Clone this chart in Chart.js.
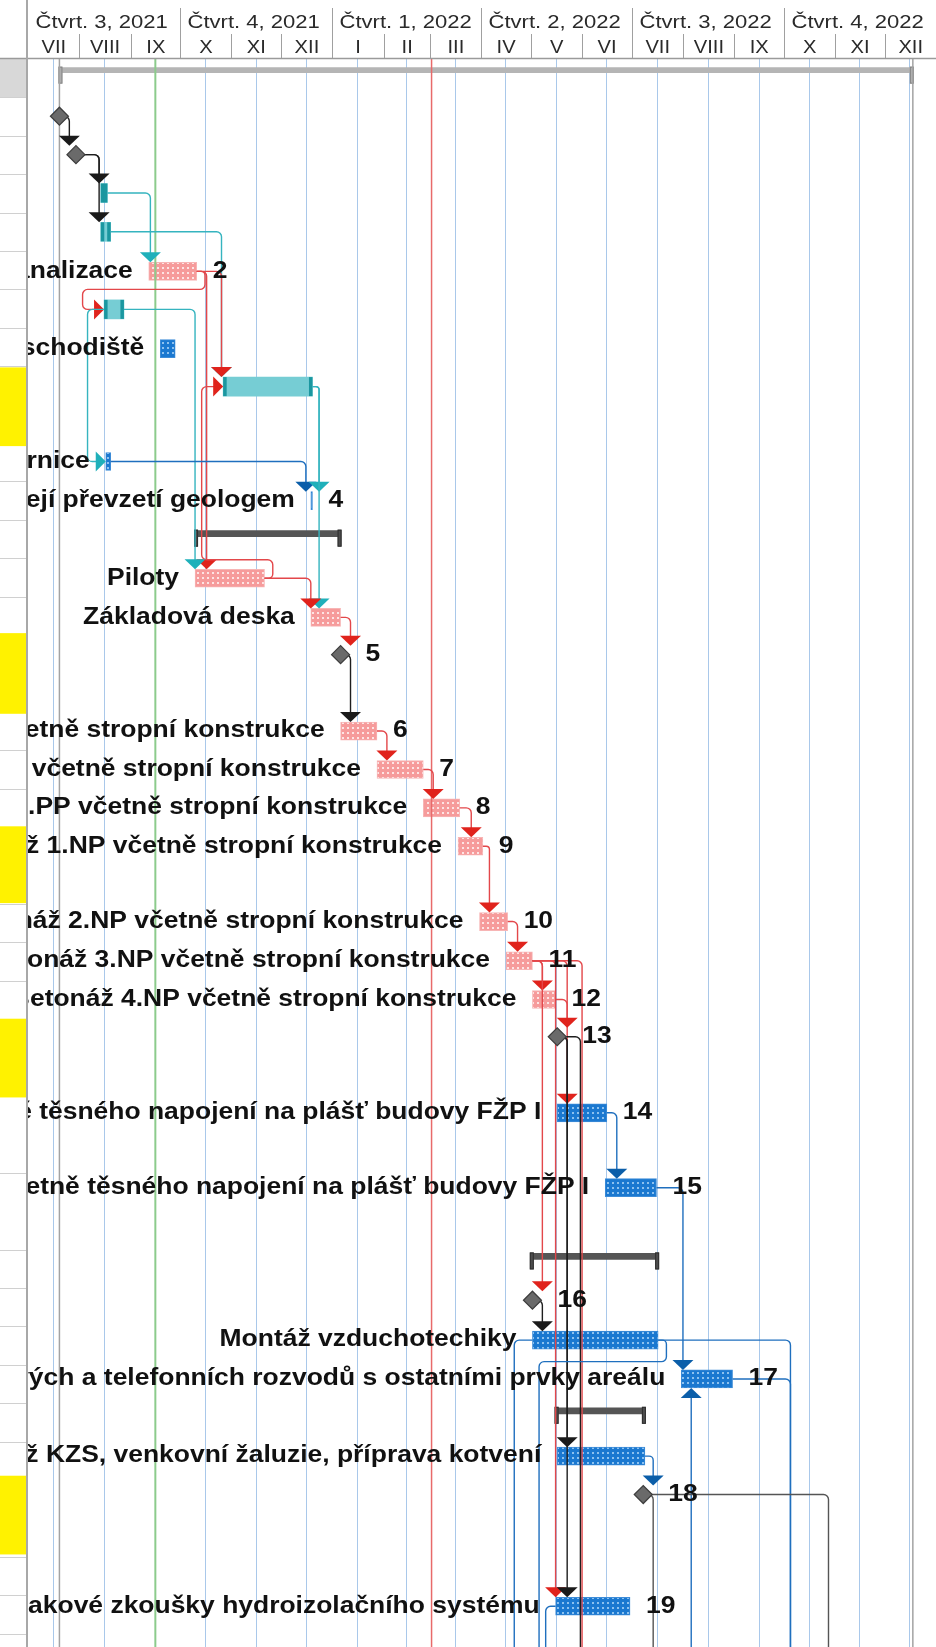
<!DOCTYPE html>
<html>
<head>
<meta charset="utf-8">
<script src="https://cdn.jsdelivr.net/npm/chart.js@4.4.1/dist/chart.umd.min.js"></script>
<style>
  html, body { margin: 0; padding: 0; background: #fff; }
  canvas { display: block; }
</style>
</head>
<body>
<canvas id="gantt" width="936" height="1647"></canvas>
<script>
// casova osa
const timelineStart = '2021-07-01';
const timelineEnd = '2023-01-01';
const quarterLabels = ['Čtvrt. 3, 2021', 'Čtvrt. 4, 2021', 'Čtvrt. 1, 2022', 'Čtvrt. 2, 2022', 'Čtvrt. 3, 2022', 'Čtvrt. 4, 2022'];
const quarterStarts = ['2021-07-01', '2021-10-01', '2022-01-01', '2022-04-01', '2022-07-01', '2022-10-01'];
const monthLabels = ['VII', 'VIII', 'IX', 'X', 'XI', 'XII', 'I', 'II', 'III', 'IV', 'V', 'VI', 'VII', 'VIII', 'IX', 'X', 'XI', 'XII'];
const monthStarts = ['2021-07-01', '2021-08-01', '2021-09-01', '2021-10-01', '2021-11-01', '2021-12-01',
                     '2022-01-01', '2022-02-01', '2022-03-01', '2022-04-01', '2022-05-01', '2022-06-01',
                     '2022-07-01', '2022-08-01', '2022-09-01', '2022-10-01', '2022-11-01', '2022-12-01'];

// ulohy
const taskIds   = ['p0', 'm1', 'm2', 't3', 't4', 'k2', 't6', 's7', 't8', 'r10', 'g4', 's12', 'pil', 'zd', 'm5',
                   'b6', 'b7', 'b8', 'b9', 'b10', 'b11', 'b12', 'm13', 'b14', 'b15', 's31', 'm16', 'vzt', 'b17',
                   's35', 'kzs', 'm18', 'b19'];
const taskKinds = ['project', 'milestone', 'milestone', 'teal', 'teal', 'pink', 'teal', 'blue', 'teal', 'blue', 'blue',
                   'summary', 'pink', 'pink', 'milestone', 'pink', 'pink', 'pink', 'pink', 'pink', 'pink', 'pink',
                   'milestone', 'blue', 'blue', 'summary', 'milestone', 'blue', 'blue', 'summary', 'blue', 'milestone', 'blue'];
const taskRows  = [0.29, 1.49, 2.49, 3.49, 4.5, 5.53, 6.52, 7.54, 8.53, 10.48, 11.5, 12.36, 13.52, 14.54, 15.51,
                   17.5, 18.5, 19.5, 20.5, 22.46, 23.48, 24.49, 25.46, 27.44, 29.39, 31.18, 32.32, 33.36, 34.37,
                   35.2, 36.38, 37.38, 40.29];
const taskStart = ['2021-07-20', '2021-07-20', '2021-07-30', '2021-08-14', '2021-08-14', '2021-09-12', '2021-08-16',
                   '2021-09-19', '2021-10-27', '2021-08-17', '2021-12-19', '2021-10-10', '2021-10-10', '2021-12-19',
                   '2022-01-06', '2022-01-06', '2022-01-28', '2022-02-25', '2022-03-18', '2022-03-31', '2022-04-16',
                   '2022-05-02', '2022-05-17', '2022-05-17', '2022-06-15', '2022-05-01', '2022-05-02', '2022-05-02',
                   '2022-07-31', '2022-05-16', '2022-05-17', '2022-07-08', '2022-05-16'];
const taskEnd   = ['2022-12-18', '', '', '2021-08-18', '2021-08-20', '2021-10-11', '2021-08-28',
                   '2021-09-28', '2021-12-20', '2021-08-20', '2021-12-20', '2022-01-06', '2021-11-21', '2022-01-06',
                   '', '2022-01-28', '2022-02-25', '2022-03-19', '2022-04-02', '2022-04-17', '2022-05-02',
                   '2022-05-16', '', '2022-06-16', '2022-07-16', '2022-07-17', '', '2022-07-17',
                   '2022-08-31', '2022-07-09', '2022-07-09', '', '2022-06-30'];
const taskNames = ['', '', '', '', '', 'Ležatá kanalizace', '', 'Venkovní schodiště', '', 'Demolice stávající čerpárnice',
                   'Základová spára a její převzetí geologem', '', 'Piloty', 'Základová deska', '',
                   'Betonáž 3.PP včetně stropní konstrukce', 'Betonáž 2.PP včetně stropní konstrukce',
                   'Betonáž 1.PP včetně stropní konstrukce', 'Betonáž 1.NP včetně stropní konstrukce',
                   'Betonáž 2.NP včetně stropní konstrukce', 'Betonáž 3.NP včetně stropní konstrukce',
                   'Betonáž 4.NP včetně stropní konstrukce', '',
                   'Fasáda včetně těsného napojení na plášť budovy FŽP I',
                   'Střecha včetně těsného napojení na plášť budovy FŽP I', '', '', 'Montáž vzduchotechiky',
                   'Propojení datových a telefonních rozvodů s ostatními prvky areálu', '',
                   'Montáž KZS, venkovní žaluzie, příprava kotvení', '', 'Tlakové zkoušky hydroizolačního systému'];
const taskNums  = ['', '', '', '', '', '2', '', '', '', '', '4', '', '', '', '5', '6', '7', '8', '9', '10', '11', '12',
                   '13', '14', '15', '', '16', '', '17', '', '', '18', '19'];

// vazby: [od, do, strana, trasa (datum = vodorovne, cislo = svisle na radek), sipka, barva]
const BOTTOM = 41.6;
const links = [
  ['m1', 'm2', 'end', ['2021-07-26'], 'down', 'black'],
  ['m2', 't3', 'end', ['2021-08-13'], 'down', 'black'],
  ['m2', 't4', 'end', ['2021-08-13'], 'down', 'black'],
  ['t3', 'k2', 'end', ['2021-09-13'], 'down', 'teal'],
  ['t4', 't8', 'end', ['2021-10-26'], 'down', 'teal'],
  ['k2', 't8', 'end', ['2021-10-26'], 'down', 'red'],
  ['k2', 't6', 'end', ['2021-10-16', 6.0, '2021-08-03'], 'right', 'red'],
  ['k2', 'pil', 'end', ['2021-10-17'], 'down', 'red'],
  ['pil', 't8', 'end', ['2021-11-26', 13.04, '2021-10-14'], 'right', 'red'],
  ['t6', 'pil', 'end', ['2021-10-10'], 'down', 'teal'],
  ['t6', 'r10', 'start', ['2021-08-06'], 'right', 'teal'],
  ['r10', 'g4', 'end', ['2021-12-16'], 'down', 'blue'],
  ['t8', 'g4', 'end', ['2021-12-24'], 'down', 'teal'],
  ['t8', 'zd', 'end', ['2021-12-24'], 'down', 'teal'],
  ['pil', 'zd', 'end', ['2021-12-19'], 'down', 'red'],
  ['zd', 'm5', 'end', ['2022-01-12'], 'down', 'red'],
  ['m5', 'b6', 'end', ['2022-01-12'], 'down', 'black'],
  ['b6', 'b7', 'end', ['2022-02-03'], 'down', 'red'],
  ['b7', 'b8', 'end', ['2022-03-03'], 'down', 'red'],
  ['b8', 'b9', 'end', ['2022-03-26'], 'down', 'red'],
  ['b9', 'b10', 'end', ['2022-04-06'], 'down', 'red'],
  ['b10', 'b11', 'end', ['2022-04-23'], 'down', 'red'],
  ['b11', 'b12', 'end', ['2022-05-08'], 'down', 'red'],
  ['b11', 'm16', 'end', ['2022-05-08'], 'down', 'red'],
  ['b11', 'b19', 'end', ['2022-05-16'], 'down', 'red'],
  ['b11', 'b14', 'end', ['2022-05-23'], 'down', 'red'],
  ['b11', null, 'end', ['2022-06-01', BOTTOM], 'none', 'red'],
  ['b12', 'm13', 'end', ['2022-05-23'], 'down', 'red'],
  ['m13', 'kzs', 'end', ['2022-05-23'], 'down', 'black'],
  ['m13', 'b19', 'end', ['2022-05-23'], 'down', 'black'],
  ['m13', null, 'end', ['2022-05-31', BOTTOM], 'none', 'black'],
  ['b14', 'b15', 'end', ['2022-06-22'], 'down', 'blue'],
  ['b15', 'b17', 'end', ['2022-08-01'], 'down', 'blue'],
  ['m16', 'vzt', 'end', ['2022-05-08'], 'down', 'black'],
  ['vzt', null, 'end', ['2022-07-22', 33.92, '2022-05-06', BOTTOM], 'none', 'blue'],
  ['vzt', null, 'end', ['2022-10-05', BOTTOM], 'none', 'blue'],
  ['vzt', null, 'start', ['2022-04-21', BOTTOM], 'none', 'blue'],
  ['b17', null, 'end', ['2022-10-05', BOTTOM], 'none', 'blue'],
  [['2022-08-06', BOTTOM], 'b17', 'point', [], 'up', 'blue'],
  ['kzs', 'm18', 'end', ['2022-07-14'], 'down', 'blue'],
  ['m18', null, 'end', ['2022-07-14', BOTTOM], 'none', 'gray'],
  ['m18', null, 'end', ['2022-10-28', BOTTOM], 'none', 'gray'],
  ['b19', null, 'start', ['2022-05-10', BOTTOM], 'none', 'blue']
];

// svisle znacky
const todayDate = '2021-09-16';
const statusDate = '2022-03-02';
const projectLines = ['2021-07-20', '2022-12-18'];

// levy panel (tabulka)
const paneYellow = [[8.03, 10.08], [14.95, 17.05], [19.98, 21.98], [24.99, 27.04], [36.89, 38.94]];
const paneSkipRules = [28, 30];

const lineColors = { red: '#e3474a', teal: '#35b4bf', blue: '#1f6fbe', black: '#1e1e1e', gray: '#555555' };
const arrowColors = { red: '#e0231c', teal: '#1fb0ba', blue: '#0b5ea9', black: '#1a1a1a', gray: '#444444' };

const MS = 86400000;
function day(s) {
    const a = s.split('-').map(Number);
    const b = timelineStart.split('-').map(Number);
    return (Date.UTC(a[0], a[1] - 1, a[2]) - Date.UTC(b[0], b[1] - 1, b[2])) / MS;
}

function dotPattern(base, dot) {
    const c = document.createElement('canvas');
    c.width = 5; c.height = 5;
    const g = c.getContext('2d');
    g.fillStyle = base; g.fillRect(0, 0, 5, 5);
    g.fillStyle = dot; g.fillRect(2, 2, 2, 2);
    return g.createPattern(c, 'repeat');
}

function barData(kind) {
    return taskIds.map((id, i) => i)
        .filter(i => taskKinds[i] === kind)
        .map(i => ({ x: [day(taskStart[i]), day(taskEnd[i])], y: taskRows[i] }));
}
const milestoneData = taskIds.map((id, i) => i)
    .filter(i => taskKinds[i] === 'milestone')
    .map(i => ({ x: day(taskStart[i]), y: taskRows[i] }));

function stretchText(ctx, str, x, y, align, sx) {
    ctx.save();
    ctx.translate(x, y);
    ctx.scale(sx, 1);
    ctx.textAlign = align;
    ctx.fillText(str, 0, 0);
    ctx.restore();
}

function geom(i, xs, ys) {
    const k = taskKinds[i];
    const x0 = xs.getPixelForValue(day(taskStart[i]));
    const x1 = k === 'milestone' ? x0 : xs.getPixelForValue(day(taskEnd[i]));
    const y = ys.getPixelForValue(taskRows[i]);
    const half = { project: 2.5, summary: 3, teal: 9.5, pink: 9, blue: 9, milestone: 9 }[k];
    return { x0, x1, y, half, k };
}

function roundPath(ctx, pts, r) {
    ctx.beginPath();
    ctx.moveTo(pts[0][0], pts[0][1]);
    for (let i = 1; i < pts.length - 1; i++) {
        const a = pts[i - 1], b = pts[i], c = pts[i + 1];
        const rr = Math.min(r, Math.hypot(b[0] - a[0], b[1] - a[1]) / 2, Math.hypot(c[0] - b[0], c[1] - b[1]) / 2);
        ctx.arcTo(b[0], b[1], c[0], c[1], rr);
    }
    const last = pts[pts.length - 1];
    ctx.lineTo(last[0], last[1]);
    ctx.stroke();
}

function arrow(ctx, dir, x, y, color) {
    ctx.fillStyle = color;
    ctx.beginPath();
    if (dir === 'down') { ctx.moveTo(x - 10.5, y - 10); ctx.lineTo(x + 10.5, y - 10); ctx.lineTo(x, y); }
    if (dir === 'up') { ctx.moveTo(x - 10.5, y + 10); ctx.lineTo(x + 10.5, y + 10); ctx.lineTo(x, y); }
    if (dir === 'right') { ctx.moveTo(x - 10, y - 10); ctx.lineTo(x - 10, y + 10); ctx.lineTo(x, y); }
    ctx.closePath();
    ctx.fill();
}

// pozadi
const background = {
    id: 'background',
    beforeDraw(chart) {
        const { ctx, width, height } = chart;
        ctx.save();
        ctx.fillStyle = '#ffffff';
        ctx.fillRect(0, 0, width, height);
        ctx.restore();
    }
};

// konce souhrnnych a teal pruhu
const barCaps = {
    id: 'barCaps',
    afterDatasetDraw(chart, args) {
        const kind = args.meta._dataset.kind;
        if (!['teal', 'summary', 'project'].includes(kind)) return;
        const { ctx } = chart;
        ctx.save();
        args.meta.data.forEach(el => {
            const x0 = Math.min(el.base, el.x), x1 = Math.max(el.base, el.x);
            const top = el.y - el.height / 2;
            if (kind === 'teal') {
                ctx.fillStyle = '#1b97a0';
                ctx.fillRect(x0, top, 3.5, el.height);
                ctx.fillRect(x1 - 3.5, top, 3.5, el.height);
            } else {
                const h = 17;
                ctx.fillStyle = kind === 'project' ? '#b0b0b0' : '#4d4d4d';
                ctx.strokeStyle = kind === 'project' ? '#858585' : '#2e2e2e';
                ctx.lineWidth = 1;
                [x0 - 1, x1 - 3].forEach(cx => {
                    ctx.fillRect(cx, top - 1, 4, h);
                    ctx.strokeRect(cx + 0.5, top - 0.5, 3, h - 1);
                });
            }
        });
        ctx.restore();
    }
};

// znacky a vazby pod milniky
const linksLayer = {
    id: 'linksLayer',
    beforeDatasetDraw(chart, args) {
        if (args.meta.type !== 'scatter') return;
        const { ctx, chartArea, scales: { x, y } } = chart;
        ctx.save();
        ctx.beginPath();
        ctx.rect(chartArea.left, chartArea.top, chartArea.right - chartArea.left, chartArea.bottom - chartArea.top);
        ctx.clip();

        // zacatek a konec projektu
        ctx.strokeStyle = '#a3a3a3';
        ctx.lineWidth = 1.5;
        projectLines.forEach(d => {
            const px = x.getPixelForValue(day(d));
            ctx.beginPath(); ctx.moveTo(px, chartArea.top); ctx.lineTo(px, chartArea.bottom); ctx.stroke();
        });
        // dnesek
        ctx.strokeStyle = '#8ccb8c';
        ctx.lineWidth = 2;
        let px = x.getPixelForValue(day(todayDate));
        ctx.beginPath(); ctx.moveTo(px, chartArea.top); ctx.lineTo(px, chartArea.bottom); ctx.stroke();
        // datum stavu
        ctx.strokeStyle = '#e86a6a';
        ctx.lineWidth = 1.5;
        px = x.getPixelForValue(day(statusDate));
        ctx.beginPath(); ctx.moveTo(px, chartArea.top); ctx.lineTo(px, chartArea.bottom); ctx.stroke();

        ctx.lineWidth = 1.4;
        links.forEach(([from, to, side, via, dir, color]) => {
            let pts;
            if (side === 'point') {
                pts = [[x.getPixelForValue(day(from[0])), y.getPixelForValue(from[1])]];
            } else {
                const g = geom(taskIds.indexOf(from), x, y);
                pts = [[side === 'start' ? g.x0 : g.x1, g.y]];
            }
            via.forEach(v => {
                const last = pts[pts.length - 1];
                if (typeof v === 'string') pts.push([x.getPixelForValue(day(v)), last[1]]);
                else pts.push([last[0], y.getPixelForValue(v)]);
            });
            const last = pts[pts.length - 1];
            let tip = null;
            if (to) {
                const t = geom(taskIds.indexOf(to), x, y);
                if (dir === 'down') { tip = [last[0], t.y - t.half]; pts.push([last[0], tip[1] - 9]); }
                if (dir === 'up') { tip = [last[0], t.y + t.half]; pts.push([last[0], tip[1] + 9]); }
                if (dir === 'right') {
                    tip = [t.x0, t.y];
                    pts.push([last[0], t.y]);
                    pts.push([t.x0 - 9, t.y]);
                }
            }
            ctx.strokeStyle = lineColors[color];
            roundPath(ctx, pts, 5);
            if (tip) arrow(ctx, dir, tip[0], tip[1], arrowColors[color]);
        });
        ctx.restore();
    }
};

// popisky uloh
const taskLabels = {
    id: 'taskLabels',
    afterDatasetsDraw(chart) {
        const { ctx, chartArea, scales: { x, y } } = chart;
        ctx.save();
        ctx.beginPath();
        ctx.rect(chartArea.left, 0, chartArea.right - chartArea.left, chart.height);
        ctx.clip();
        ctx.fillStyle = '#111111';
        ctx.font = 'bold 23px "Liberation Sans", Arial, sans-serif';
        ctx.textBaseline = 'middle';
        taskIds.forEach((id, i) => {
            const g = geom(i, x, y);
            if (taskNames[i]) stretchText(ctx, taskNames[i], g.x0 - 16, g.y, 'right', 1.15);
            if (taskNums[i]) {
                const lx = g.k === 'milestone' ? g.x0 + 25 : g.x1 + 16;
                stretchText(ctx, taskNums[i], lx, g.y, 'left', 1.15);
            }
        });
        ctx.restore();
    }
};

// hlavicka casove osy a levy panel
const frame = {
    id: 'frame',
    afterDraw(chart) {
        const { ctx, chartArea, scales: { x, y } } = chart;
        const top = chartArea.top;
        ctx.save();

        // levy panel
        ctx.fillStyle = '#ffffff';
        ctx.fillRect(0, 0, 27, chart.height);
        ctx.fillStyle = '#d8d8d8';
        ctx.fillRect(0, y.getPixelForValue(0), 27, y.getPixelForValue(1) - y.getPixelForValue(0));
        ctx.strokeStyle = '#d0d0d0';
        ctx.lineWidth = 1;
        for (let r = 1; r <= Math.floor(y.max); r++) {
            if (paneSkipRules.includes(r)) continue;
            const py = Math.round(y.getPixelForValue(r)) + 0.5;
            ctx.beginPath(); ctx.moveTo(0, py); ctx.lineTo(27, py); ctx.stroke();
        }
        ctx.fillStyle = '#fff200';
        paneYellow.forEach(([a, b]) => {
            const y0 = y.getPixelForValue(a), y1 = y.getPixelForValue(b);
            ctx.fillRect(0, y0, 27, y1 - y0);
        });

        // hlavicka
        ctx.fillStyle = '#ffffff';
        ctx.fillRect(0, 0, chart.width, top - 1);
        ctx.strokeStyle = '#9a9a9a';
        ctx.lineWidth = 1.5;
        ctx.beginPath(); ctx.moveTo(0, top - 0.5); ctx.lineTo(chart.width, top - 0.5); ctx.stroke();
        ctx.lineWidth = 2;
        ctx.strokeStyle = '#a8a8a8';
        ctx.beginPath(); ctx.moveTo(27, 0); ctx.lineTo(27, chart.height); ctx.stroke();

        ctx.lineWidth = 1;
        ctx.strokeStyle = '#a0a0a0';
        ctx.fillStyle = '#2a2a2a';
        ctx.textBaseline = 'middle';
        ctx.font = '19px "Liberation Sans", Arial, sans-serif';
        quarterStarts.forEach((q, i) => {
            const qx = Math.round(x.getPixelForValue(day(q))) + 0.5;
            if (i > 0) { ctx.beginPath(); ctx.moveTo(qx, 8); ctx.lineTo(qx, top - 1); ctx.stroke(); }
            stretchText(ctx, quarterLabels[i], qx + 7, 23, 'left', 1.16);
        });
        ctx.font = '18px "Liberation Sans", Arial, sans-serif';
        monthStarts.forEach((m, i) => {
            const mx = Math.round(x.getPixelForValue(day(m))) + 0.5;
            const next = i + 1 < monthStarts.length ? day(monthStarts[i + 1]) : day(timelineEnd);
            const nx = x.getPixelForValue(next);
            if (i > 0 && !quarterStarts.includes(m)) {
                ctx.beginPath(); ctx.moveTo(mx, 34); ctx.lineTo(mx, top - 1); ctx.stroke();
            }
            stretchText(ctx, monthLabels[i], (mx + nx) / 2, 48, 'center', 1.12);
        });
        ctx.restore();
    }
};

const pinkFill = dotPattern('#f69b9b', '#fde4e4');
const blueFill = dotPattern('#1a78d0', '#8cc1ef');

const config = {
    type: 'bar',
    data: {
        datasets: [
            { kind: 'project', type: 'bar', indexAxis: 'y', data: barData('project'), backgroundColor: '#b5b5b5',
              barThickness: 5, grouped: false, order: 3 },
            { kind: 'summary', type: 'bar', indexAxis: 'y', data: barData('summary'), backgroundColor: '#555555',
              barThickness: 6, grouped: false, order: 3 },
            { kind: 'teal', type: 'bar', indexAxis: 'y', data: barData('teal'), backgroundColor: '#76cdd4',
              barThickness: 19, grouped: false, order: 2 },
            { kind: 'pink', type: 'bar', indexAxis: 'y', data: barData('pink'), backgroundColor: pinkFill,
              borderColor: '#f7b5b5', borderWidth: 1, borderSkipped: false, barThickness: 18, grouped: false, order: 2 },
            { kind: 'blue', type: 'bar', indexAxis: 'y', data: barData('blue'), backgroundColor: blueFill,
              borderColor: '#3d8cd8', borderWidth: 1, borderSkipped: false, barThickness: 18, grouped: false, order: 2 },
            { kind: 'milestone', type: 'scatter', data: milestoneData, pointStyle: 'rectRot', pointRadius: 9,
              backgroundColor: '#6a6a6a', borderColor: '#3d3d3d', borderWidth: 1.2, order: 0 }
        ]
    },
    options: {
        responsive: false,
        animation: false,
        events: [],
        layout: { autoPadding: false, padding: { left: 28, right: 0, top: 0, bottom: 0 } },
        plugins: { legend: { display: false }, tooltip: { enabled: false } },
        scales: {
            x: {
                type: 'linear', position: 'top', min: 0, max: day(timelineEnd), offset: false,
                afterBuildTicks: s => { s.ticks = monthStarts.map(m => ({ value: day(m) })); },
                afterFit: s => { s.height = 59; },
                ticks: { display: false },
                grid: { color: '#a9c8ea', lineWidth: 1, drawTicks: false },
                border: { display: false }
            },
            y: { type: 'linear', min: 0, max: 41.35, reverse: true, display: false, offset: false }
        }
    },
    plugins: [background, barCaps, linksLayer, taskLabels, frame]
};

const myChart = new Chart(document.getElementById('gantt'), config);
</script>
</body>
</html>
